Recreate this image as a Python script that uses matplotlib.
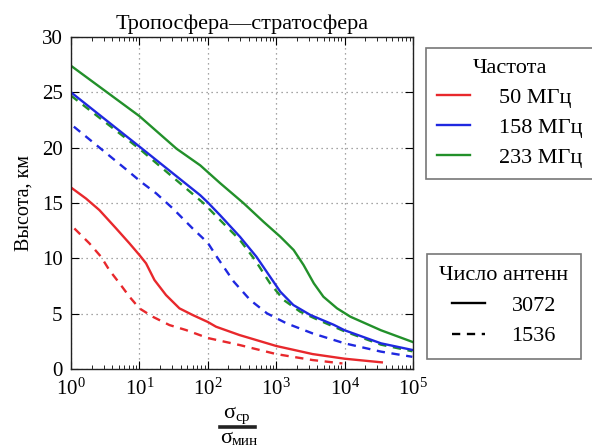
import numpy as np
import matplotlib
matplotlib.use("Agg")
import matplotlib.pyplot as plt
from matplotlib.lines import Line2D
from matplotlib.ticker import LogLocator, LogFormatterSciNotation, NullFormatter

plt.rcParams['font.family'] = ['Liberation Serif', 'DejaVu Serif']
plt.rcParams['mathtext.fontset'] = 'stix'

# Data (x = sigma_cp / sigma_min, y = height, km)
red_solid_x = [1, 1.66, 2.6, 4.57, 7.16, 10, 12.5, 16.6, 24.5, 38.5, 60, 100, 132, 290, 1000, 3400, 10000, 35000]
red_solid_y = [16.4, 15.4, 14.36, 12.7, 11.35, 10.3, 9.55, 8.04, 6.68, 5.48, 4.88, 4.25, 3.82, 3.07, 2.08, 1.35, 0.93, 0.6]

red_dash_x = [1.12, 1.86, 2.75, 3.63, 5.13, 7.16, 10, 15.7, 27.5, 48, 100, 290, 1000, 3400, 9300]
red_dash_y = [12.7, 11.35, 10.14, 8.94, 7.74, 6.53, 5.48, 4.72, 3.97, 3.52, 2.8, 2.17, 1.35, 0.81, 0.5]

blue_solid_x = [1, 10, 77.6, 100, 151, 295, 513, 813, 1150, 1780, 3160, 6900, 10000, 34000, 98000]
blue_solid_y = [25.0, 20.1, 15.7, 15.05, 13.9, 11.95, 10.15, 8.34, 6.98, 5.78, 4.88, 4.0, 3.5, 2.32, 1.72]

blue_dash_x = [1.1, 6.5, 10.6, 17.6, 30.9, 60, 100, 135, 240, 417, 733, 1000, 1410, 3400, 10000, 34000, 98000]
blue_dash_y = [21.9, 18.0, 16.9, 15.87, 14.5, 12.7, 11.4, 10.15, 7.89, 6.23, 5.03, 4.6, 4.13, 3.22, 2.32, 1.57, 1.1]

green_solid_x = [1, 10, 35, 77.6, 151, 331, 653, 1150, 1800, 2510, 3550, 4900, 7760, 12200, 34000, 98000]
green_solid_y = [27.4, 22.85, 19.9, 18.4, 16.8, 15.0, 13.3, 11.95, 10.75, 9.4, 7.74, 6.53, 5.48, 4.72, 3.5, 2.45]

green_dash_x = [1, 10, 87, 151, 295, 490, 813, 1290, 2240, 3890, 10000, 34000, 98000]
green_dash_y = [24.7, 19.9, 14.97, 13.46, 11.65, 9.85, 7.74, 6.23, 5.18, 4.5, 3.4, 2.2, 1.6]

x_ticks = [1, 10, 100, 1000, 10000, 100000]
y_ticks = [0, 5, 10, 15, 20, 25, 30]
freq_labels = ['50 МГц', '158 МГц', '233 МГц']
ant_labels = ['3072', '1536']
colors = ['#e8282c', '#1f28e0', '#22902a']

fig = plt.figure(figsize=(5.92, 4.48), dpi=100)
ax = fig.add_axes([71/592, 1-369/448, (413-71)/592, (369-37)/448])

lw = 1.7
dash = (0, (3.5, 2.8))
ax.plot(red_solid_x, red_solid_y, color=colors[0], lw=lw)
ax.plot(red_dash_x, red_dash_y, color=colors[0], lw=lw, ls=dash)
ax.plot(green_dash_x, green_dash_y, color=colors[2], lw=lw, ls=dash)
ax.plot(blue_solid_x, blue_solid_y, color=colors[1], lw=lw)
ax.plot(blue_dash_x, blue_dash_y, color=colors[1], lw=lw, ls=dash)
ax.plot(green_solid_x, green_solid_y, color=colors[2], lw=lw)

ax.set_xscale('log')
ax.set_xlim(1, 1e5)
ax.set_ylim(0, 30)
ax.set_xticks(x_ticks)
ax.xaxis.set_major_formatter(LogFormatterSciNotation())
ax.xaxis.set_minor_locator(LogLocator(base=10, subs=np.arange(2, 10), numticks=20))
ax.xaxis.set_minor_formatter(NullFormatter())
ax.set_yticks(y_ticks)
ax.grid(True, which='major', ls=(0, (1, 3)), color='#888888', lw=0.9)
ax.tick_params(which='both', direction='in', top=True, right=True, labelsize=15)
ax.tick_params(axis='x', which='major', pad=7)
ax.tick_params(axis='y', which='major', pad=6)
ax.tick_params(which='major', length=6)
ax.tick_params(which='minor', length=3)
for s in ax.spines.values():
    s.set_color('#222222')
    s.set_linewidth(1.0)

ax.set_ylabel('Высота, км', fontsize=14.5, labelpad=6)
ax.set_title('Тропосфера—стратосфера', fontsize=16, pad=6)

# x label as a fraction
fig.text(235/592, 1-418/448, 'σ', fontsize=16, ha='right', va='baseline')
fig.text(235/592, 1-421/448, 'ср', fontsize=11, ha='left', va='baseline')
fig.add_artist(Line2D([220/592, 255/592], [1-427/448, 1-427/448], color='#222222', lw=2.6))
fig.text(232/592, 1-443/448, 'σ', fontsize=16, ha='right', va='baseline')
fig.text(232/592, 1-445/448, 'мин', fontsize=11, ha='left', va='baseline')

h1 = [Line2D([], [], color=c, lw=lw) for c in colors]
leg1 = fig.legend(h1, freq_labels, title='Частота', loc='upper left',
                  bbox_to_anchor=(426/592, 1-48/448), fontsize=16, title_fontsize=16,
                  frameon=True, fancybox=False, edgecolor='#555555',
                  handlelength=1.5, handletextpad=1.3, labelspacing=0.42,
                  borderpad=0.5, borderaxespad=0)
leg1.get_frame().set_linewidth(1.2)

h2 = [Line2D([], [], color='black', lw=lw), Line2D([], [], color='black', lw=lw, ls=dash)]
leg2 = fig.legend(h2, ant_labels, title='Число антенн', loc='upper left',
                  bbox_to_anchor=(427/592, 1-254/448), fontsize=16, title_fontsize=16,
                  frameon=True, fancybox=False, edgecolor='#555555',
                  handlelength=1.5, handletextpad=1.2, labelspacing=0.45,
                  borderpad=0.55, borderaxespad=0)
leg2.get_frame().set_linewidth(1.2)

fig.savefig('out.png', dpi=100)
